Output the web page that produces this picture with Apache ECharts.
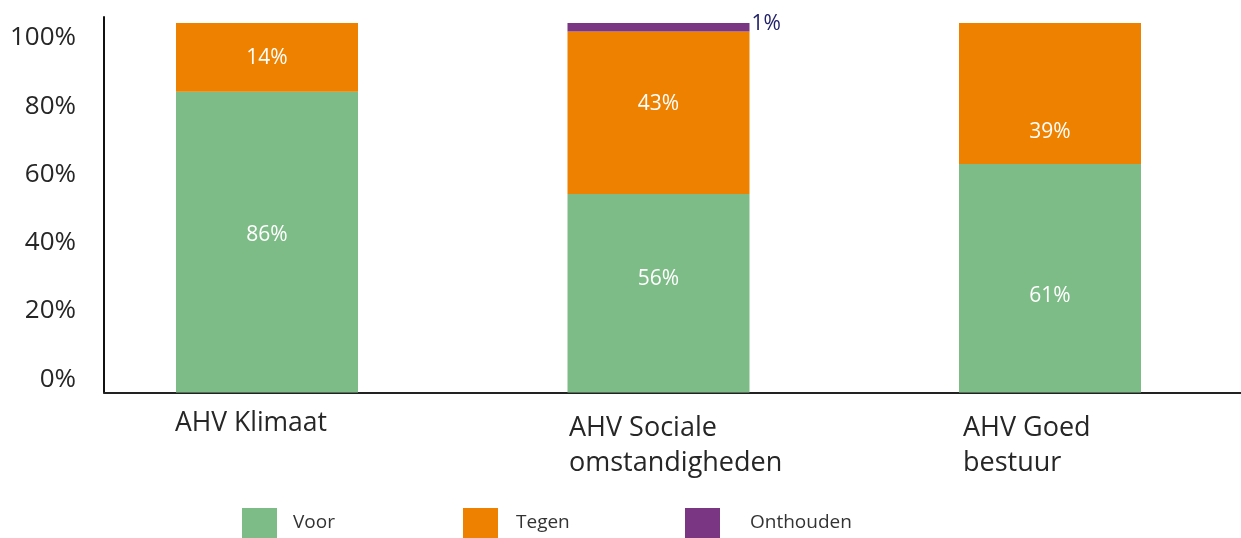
<!DOCTYPE html>
<html>
<head>
<meta charset="utf-8">
<script src="https://cdn.jsdelivr.net/npm/echarts@6/dist/echarts.min.js"></script>
<style>
    html, body { margin: 0; padding: 0; background: #fff; overflow: hidden; }
    #main { width: 1300px; height: 538px; }
</style>
</head>
<body>
<div id="main"></div>
<script>
// categories (x axis)
var categories = ['AHV Klimaat', 'AHV Sociale\nomstandigheden', 'AHV Goed\nbestuur'];

// bar heights as drawn (share of the full bar)
var voor = [81.4, 53.7, 61.8];
var tegen = [18.6, 44.0, 38.2];
var onthouden = [0, 2.3, 0];

// percentages printed on the bars
var voorPct = [86, 56, 61];
var tegenPct = [14, 43, 39];
var onthoudenPct = [null, 1, null];

// y axis ticks
var yTicks = [0, 20, 40, 60, 80, 100];

// label nudges (px), the printed labels are not centred in the original
var voorNudge = [-7, -14, 18];
var tegenNudge = [1, -9, 39];

var font = '"Open Sans", "Noto Sans", sans-serif';

function barData(values, pct, nudge) {
    var res = [];
    for (var i = 0; i < values.length; i++) {
        res.push({
            value: values[i],
            label: { formatter: pct[i] + '%', offset: [0, nudge[i]] }
        });
    }
    return res;
}

function legendItem(name, left, gap) {
    return {
        data: [name], left: left, top: 508, padding: 0,
        itemWidth: 35, itemHeight: 30, icon: 'rect', selectedMode: false,
        textStyle: { fontSize: 19, color: '#333', fontFamily: font, padding: [10, 0, 0, gap] }
    };
}

var dom = document.getElementById('main');
var myChart = echarts.init(dom);

var option = {
    animation: false,
    textStyle: { fontFamily: font },
    grid: [
        // bars
        { left: 71.25, right: 54.25, top: 17, bottom: 145.5 },
        // y labels + x axis line
        { left: 104, right: 59, top: 38, bottom: 158.8 },
        // x labels (left aligned at bar edge)
        { left: 175, right: 337, top: 17, bottom: 145.5 }
    ],
    legend: [
        legendItem('Voor', 242, 11),
        legendItem('Tegen', 463, 13),
        legendItem('Onthouden', 685, 25)
    ],
    xAxis: [
        {
            gridIndex: 0, type: 'category', data: categories,
            axisLine: { show: false }, axisTick: { show: false }, axisLabel: { show: false }
        },
        {
            gridIndex: 1, type: 'value', min: 0, max: 1, offset: 13.3,
            axisLine: { show: true, onZero: false, lineStyle: { color: '#222', width: 2 } },
            axisTick: { show: false }, axisLabel: { show: false }, splitLine: { show: false }
        },
        {
            gridIndex: 2, type: 'category', data: categories, boundaryGap: false,
            axisLine: { show: false }, axisTick: { show: false },
            axisLabel: {
                align: 'left', margin: 18, fontSize: 27, lineHeight: 35,
                color: '#262626', fontFamily: font, interval: 0,
                formatter: function (v) {
                    // single-line label sits a little higher in the original
                    return v.indexOf('\n') >= 0 ? v : '{s|' + v + '}';
                },
                rich: {
                    s: { fontSize: 26.5, lineHeight: 25, color: '#262626', fontFamily: font }
                }
            }
        }
    ],
    yAxis: [
        {
            gridIndex: 0, type: 'value', min: 0, max: 101.6, offset: -32.75,
            axisLine: { show: true, lineStyle: { color: '#111', width: 2 } },
            axisTick: { show: false }, axisLabel: { show: false }, splitLine: { show: false }
        },
        {
            gridIndex: 1, type: 'value', min: yTicks[0], max: yTicks[yTicks.length - 1], interval: 20,
            axisLine: { show: false }, axisTick: { show: false }, splitLine: { show: false },
            axisLabel: { margin: 28, fontSize: 26, color: '#262626', fontFamily: font, formatter: '{value}%' }
        },
        {
            gridIndex: 2, type: 'value', show: false
        }
    ],
    series: [
        {
            name: 'Voor', type: 'bar', stack: 'all', barWidth: 182,
            xAxisIndex: 0, yAxisIndex: 0,
            itemStyle: { color: '#7EBC87' },
            label: { show: true, position: 'inside', color: '#fff', fontSize: 21, fontFamily: font },
            data: barData(voor, voorPct, voorNudge)
        },
        {
            name: 'Tegen', type: 'bar', stack: 'all', barWidth: 182,
            xAxisIndex: 0, yAxisIndex: 0,
            itemStyle: { color: '#EE8100' },
            label: { show: true, position: 'inside', color: '#fff', fontSize: 21, fontFamily: font },
            data: barData(tegen, tegenPct, tegenNudge)
        },
        {
            name: 'Onthouden', type: 'bar', stack: 'all', barWidth: 182,
            xAxisIndex: 0, yAxisIndex: 0,
            itemStyle: { color: '#7A3583' },
            label: {
                show: true, position: 'right', distance: 2, offset: [0, -3],
                color: '#22226b', fontSize: 21, fontFamily: font,
                formatter: function (p) {
                    var v = onthoudenPct[p.dataIndex];
                    return v === null ? '' : v + '%';
                }
            },
            data: onthouden.map(function (v) { return v === 0 ? '-' : v; })
        }
    ]
};

myChart.setOption(option, true);
</script>
</body>
</html>
